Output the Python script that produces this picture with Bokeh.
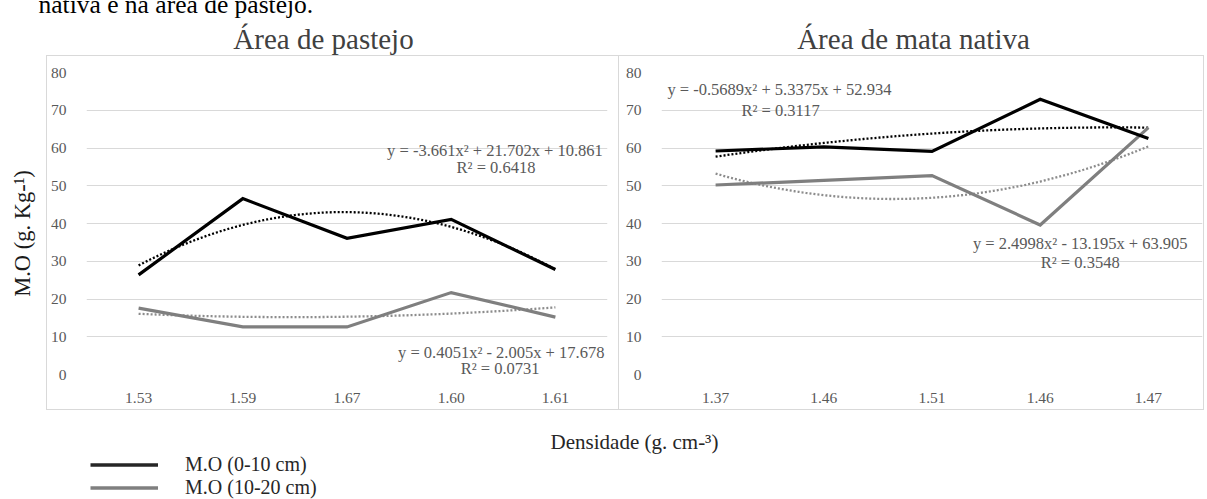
import numpy as np
from bokeh.plotting import figure
from bokeh.layouts import column, row
from bokeh.models import Range1d, FixedTicker, Label, Legend, LegendItem
from bokeh.embed import file_html
from bokeh.resources import INLINE

# ---------------- data ----------------
pastejo_labels = ["1.53", "1.59", "1.67", "1.60", "1.61"]
pastejo_0_10 = [26.4, 46.6, 36.1, 41.1, 27.8]
pastejo_10_20 = [17.6, 12.6, 12.6, 21.7, 15.2]
pastejo_trend_0_10 = [-3.661, 21.702, 10.861]     # a, b, c  (x = 1..5)
pastejo_trend_10_20 = [0.4051, -2.005, 17.678]
pastejo_eq_0_10 = ["y = -3.661x² + 21.702x + 10.861", "R² = 0.6418"]
pastejo_eq_10_20 = ["y = 0.4051x² - 2.005x + 17.678", "R² = 0.0731"]

mata_labels = ["1.37", "1.46", "1.51", "1.46", "1.47"]
mata_0_10 = [59.2, 60.3, 59.1, 72.9, 62.5]
mata_10_20 = [50.2, 51.4, 52.7, 39.6, 65.4]
mata_trend_0_10 = [-0.5689, 5.3375, 52.934]
mata_trend_10_20 = [2.4998, -13.195, 63.905]
mata_eq_0_10 = ["y = -0.5689x² + 5.3375x + 52.934", "R² = 0.3117"]
mata_eq_10_20 = ["y = 2.4998x² - 13.195x + 63.905", "R² = 0.3548"]

series_names = ["M.O (0-10 cm)", "M.O (10-20 cm)"]
y_ticks = [0, 10, 20, 30, 40, 50, 60, 70, 80]

# ---------------- styles ----------------
FONT = "Liberation Serif"
C_DARK = "#000000"
C_GRAY = "#7f7f7f"
C_TREND_GRAY = "#8c8c8c"
C_TICK = "#595959"
C_GRID = "#d9d9d9"
BORDER = "1px solid #d9d9d9"


def make_panel(labels, s1, s2, t1, t2, eq1, eq2, pos1, pos2, width, min_left, min_right, styles):
    p = figure(width=width, height=355, output_backend="svg", toolbar_location=None,
               x_range=Range1d(-0.5, len(labels) - 0.5), y_range=Range1d(0, 80),
               min_border_left=min_left, min_border_right=min_right,
               min_border_top=16, min_border_bottom=37)
    p.styles = styles
    p.outline_line_color = None
    p.background_fill_color = "white"
    p.border_fill_color = "white"
    xs = list(range(len(labels)))
    p.xaxis.ticker = FixedTicker(ticks=xs)
    p.xaxis.major_label_overrides = {i: l for i, l in enumerate(labels)}
    p.yaxis.ticker = FixedTicker(ticks=y_ticks)
    for ax in (p.xaxis[0], p.yaxis[0]):
        ax.axis_line_color = None
        ax.major_tick_line_color = None
        ax.minor_tick_line_color = None
        ax.major_label_text_font = FONT
        ax.major_label_text_font_size = "15.5px"
        ax.major_label_text_color = C_TICK
    p.xaxis.major_label_standoff = 12
    p.yaxis.major_label_standoff = 14
    p.xgrid.grid_line_color = None
    p.ygrid.grid_line_color = C_GRID
    p.ygrid.grid_line_width = 1

    # trend lines (Excel polynomial, x = index + 1)
    tx = np.linspace(0, len(labels) - 1, 121)
    for coef, col in ((t2, C_TREND_GRAY), (t1, C_DARK)):
        a, b, c = coef
        ty = a * (tx + 1) ** 2 + b * (tx + 1) + c
        p.line(tx, ty, line_color=col, line_width=2.3, line_dash="2 2")

    p.line(xs, s2, line_color=C_GRAY, line_width=3.2, line_join="miter")
    p.line(xs, s1, line_color=C_DARK, line_width=3.2, line_join="miter")

    for eq, pos in ((eq1, pos1), (eq2, pos2)):
        for txt, (x, y) in zip(eq, pos):
            p.add_layout(Label(x=x, y=y, text=txt, text_font=FONT, text_font_size="16.5px",
                               text_color=C_TICK, text_align="center", text_baseline="middle"))
    return p


left = make_panel(pastejo_labels, pastejo_0_10, pastejo_10_20,
                  pastejo_trend_0_10, pastejo_trend_10_20,
                  pastejo_eq_0_10, pastejo_eq_10_20,
                  [(3.42, 59.4), (3.43, 54.9)], [(3.48, 5.9), (3.47, 1.7)],
                  width=573, min_left=38, min_right=13,
                  styles={"border": BORDER})

right = make_panel(mata_labels, mata_0_10, mata_10_20,
                   mata_trend_0_10, mata_trend_10_20,
                   mata_eq_0_10, mata_eq_10_20,
                   [(0.59, 75.6), (0.6, 70.0)], [(3.37, 34.7), (3.37, 29.8)],
                   width=585, min_left=42, min_right=2,
                   styles={"border-top": BORDER, "border-right": BORDER, "border-bottom": BORDER})


def blank(width, height):
    f = figure(width=width, height=height, output_backend="svg", toolbar_location=None,
               x_axis_type=None, y_axis_type=None, min_border=0,
               x_range=Range1d(0, 1), y_range=Range1d(0, 1))
    f.outline_line_color = None
    f.grid.grid_line_color = None
    f.background_fill_color = "white"
    f.border_fill_color = "white"
    return f


# header: cut-off document text and panel titles
header = blank(1207, 55)
header.add_layout(Label(x=38, y=51, x_units="screen", y_units="screen",
                        text="nativa e na área de pastejo.", text_font=FONT,
                        text_font_size="25.5px", text_color="#000000", text_baseline="middle"))
header.add_layout(Label(x=323, y=17, x_units="screen", y_units="screen",
                        text="Área de pastejo", text_font=FONT, text_font_size="29px",
                        text_color="#404040", text_align="center", text_baseline="middle"))
header.add_layout(Label(x=913, y=17, x_units="screen", y_units="screen",
                        text="Área de mata nativa", text_font=FONT, text_font_size="29px",
                        text_color="#404040", text_align="center", text_baseline="middle"))

# y-axis title spacer
ylab = blank(46, 357)
ylab.add_layout(Label(x=22, y=142, x_units="screen", y_units="screen",
                      text="M.O (g. Kg-¹)", text_font=FONT, text_font_size="22.5px",
                      text_color="#1a1a1a", text_align="center", text_baseline="middle",
                      angle=np.pi / 2))

# footer: x title and legend
footer = blank(1207, 87)
footer.add_layout(Label(x=634, y=58, x_units="screen", y_units="screen",
                        text="Densidade (g. cm-³)", text_font=FONT, text_font_size="21px",
                        text_color="#262626", text_align="center", text_baseline="middle"))
r1 = footer.line([np.nan], [np.nan], line_color="#262626", line_width=3.5)
r2 = footer.line([np.nan], [np.nan], line_color=C_GRAY, line_width=3.5)
legend = Legend(items=[LegendItem(label=series_names[0], renderers=[r1]),
                       LegendItem(label=series_names[1], renderers=[r2])],
                location=(90, 0), orientation="vertical",
                border_line_color=None, background_fill_alpha=0,
                padding=0, margin=0, spacing=0,
                glyph_width=68, glyph_height=21, label_height=21, label_standoff=27,
                label_text_font=FONT, label_text_font_size="20px",
                label_text_color="#262626")
footer.add_layout(legend)

layout = column(header, row(ylab, left, right), footer)

open("out.html", "w").write(file_html(layout, INLINE))
